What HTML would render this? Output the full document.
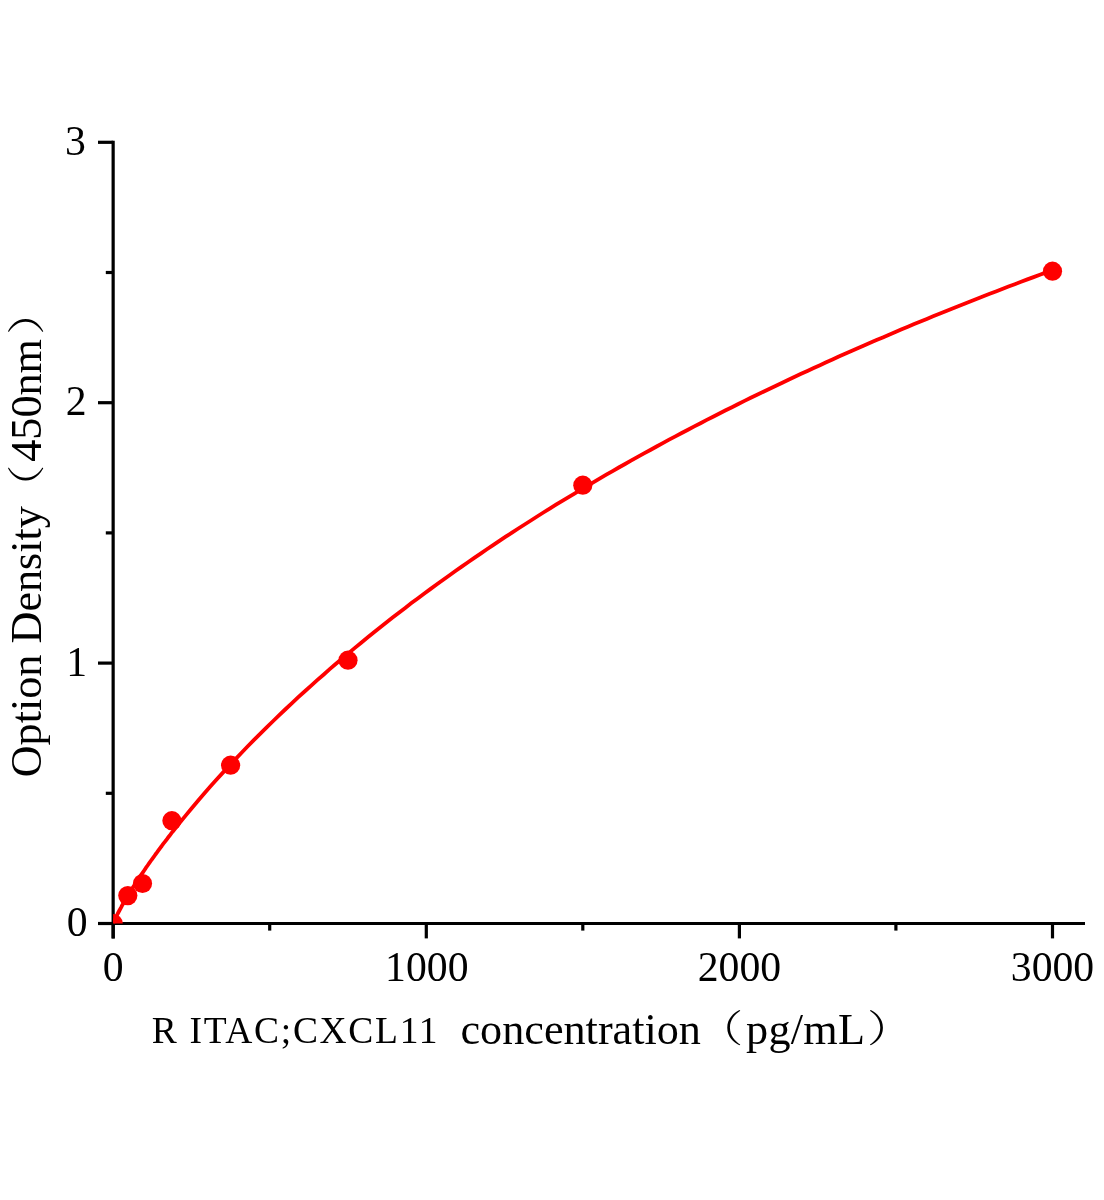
<!DOCTYPE html>
<html lang="en">
<head>
<meta charset="utf-8">
<title>R ITAC;CXCL11 standard curve</title>
<style>
html,body{margin:0;padding:0;background:#fff;}
body{width:1104px;height:1200px;overflow:hidden;}
svg{display:block;}
text{font-family:"Liberation Serif","Noto Serif CJK SC",serif;fill:#000;}
.tick text{font-size:41.7px;}
.ttl{font-size:44.2px;}
.sm{font-size:37.5px;letter-spacing:1.7px;}
.cjk{font-family:"Noto Serif CJK SC","Liberation Serif",serif;font-weight:300;font-size:44.2px;}
</style>
</head>
<body>
<svg width="1104" height="1200" viewBox="0 0 1104 1200">
<rect width="1104" height="1200" fill="#fff"/>
<defs><clipPath id="plot"><rect x="113.15" y="100" width="1000" height="823.5"/></clipPath></defs>
<g stroke="#000" stroke-width="3.2" fill="none">
<line x1="113.15" y1="140.70" x2="113.15" y2="938.4"/>
<line x1="98" y1="923.5" x2="1085" y2="923.5"/>
<line x1="113.2" y1="923.5" x2="113.2" y2="938.4"/>
<line x1="269.7" y1="923.5" x2="269.7" y2="930.6"/>
<line x1="426.3" y1="923.5" x2="426.3" y2="938.4"/>
<line x1="582.8" y1="923.5" x2="582.8" y2="930.6"/>
<line x1="739.4" y1="923.5" x2="739.4" y2="938.4"/>
<line x1="895.9" y1="923.5" x2="895.9" y2="930.6"/>
<line x1="1052.5" y1="923.5" x2="1052.5" y2="938.4"/>
<line x1="113.15" y1="923.5" x2="98" y2="923.5"/>
<line x1="113.15" y1="793.3" x2="105.8" y2="793.3"/>
<line x1="113.15" y1="663.1" x2="98" y2="663.1"/>
<line x1="113.15" y1="532.9" x2="105.8" y2="532.9"/>
<line x1="113.15" y1="402.7" x2="98" y2="402.7"/>
<line x1="113.15" y1="272.5" x2="105.8" y2="272.5"/>
<line x1="113.15" y1="142.3" x2="98" y2="142.3"/>
</g>
<g clip-path="url(#plot)">
<path d="M113.2,923.1 L114.7,920.0 L116.3,916.6 L117.8,913.5 L119.4,910.5 L121.0,907.6 L122.5,904.7 L124.1,902.0 L125.7,899.3 L127.2,896.7 L128.8,894.1 L130.4,891.5 L131.9,889.0 L133.5,886.5 L135.1,884.1 L136.6,881.7 L138.2,879.3 L139.8,876.9 L141.3,874.6 L142.9,872.3 L144.5,870.0 L146.0,867.7 L147.6,865.5 L149.2,863.2 L150.7,861.0 L152.3,858.8 L153.9,856.7 L155.4,854.5 L157.0,852.4 L158.6,850.2 L160.1,848.1 L161.7,846.0 L163.2,843.9 L164.8,841.9 L166.4,839.8 L167.9,837.8 L169.5,835.8 L171.1,833.7 L172.6,831.7 L174.2,829.7 L175.8,827.8 L178.9,823.8 L185.2,816.1 L191.5,808.5 L197.8,801.0 L204.0,793.7 L210.3,786.6 L216.6,779.5 L222.9,772.6 L229.2,765.8 L235.5,759.1 L241.8,752.5 L248.0,746.0 L254.3,739.6 L260.6,733.3 L266.9,727.1 L273.2,721.0 L279.5,714.9 L285.7,709.0 L292.0,703.1 L298.3,697.2 L304.6,691.5 L310.9,685.8 L317.2,680.2 L323.5,674.7 L329.7,669.2 L336.0,663.8 L342.3,658.4 L348.6,653.1 L354.9,647.9 L361.2,642.7 L367.5,637.6 L373.7,632.5 L380.0,627.5 L386.3,622.5 L392.6,617.6 L398.9,612.7 L405.2,607.9 L411.4,603.1 L417.7,598.4 L424.0,593.7 L430.3,589.1 L436.6,584.5 L442.9,580.0 L449.2,575.5 L455.4,571.0 L461.7,566.6 L468.0,562.2 L474.3,557.9 L480.6,553.6 L486.9,549.3 L493.1,545.1 L499.4,540.9 L505.7,536.7 L512.0,532.6 L518.3,528.5 L524.6,524.5 L530.9,520.5 L537.1,516.5 L543.4,512.5 L549.7,508.6 L556.0,504.7 L562.3,500.9 L568.6,497.1 L574.9,493.3 L581.1,489.5 L587.4,485.8 L593.7,482.1 L600.0,478.4 L606.3,474.7 L612.6,471.1 L618.8,467.5 L625.1,464.0 L631.4,460.4 L637.7,456.9 L644.0,453.4 L650.3,450.0 L656.6,446.5 L662.8,443.1 L669.1,439.7 L675.4,436.4 L681.7,433.0 L688.0,429.7 L694.3,426.4 L700.5,423.2 L706.8,419.9 L713.1,416.7 L719.4,413.5 L725.7,410.3 L732.0,407.2 L738.3,404.0 L744.5,400.9 L750.8,397.8 L757.1,394.8 L763.4,391.7 L769.7,388.7 L776.0,385.7 L782.3,382.7 L788.5,379.7 L794.8,376.8 L801.1,373.8 L807.4,370.9 L813.7,368.0 L820.0,365.2 L826.2,362.3 L832.5,359.5 L838.8,356.6 L845.1,353.8 L851.4,351.0 L857.7,348.3 L864.0,345.5 L870.2,342.8 L876.5,340.1 L882.8,337.4 L889.1,334.7 L895.4,332.0 L901.7,329.3 L907.9,326.7 L914.2,324.1 L920.5,321.5 L926.8,318.9 L933.1,316.3 L939.4,313.8 L945.7,311.2 L951.9,308.7 L958.2,306.2 L964.5,303.7 L970.8,301.2 L977.1,298.7 L983.4,296.2 L989.7,293.8 L995.9,291.4 L1002.2,288.9 L1008.5,286.5 L1014.8,284.2 L1021.1,281.8 L1027.4,279.4 L1033.6,277.1 L1039.9,274.7 L1046.2,272.4 L1052.5,270.1" fill="none" stroke="#fe0000" stroke-width="3.8" stroke-linejoin="round"/>
<g fill="#fe0000">
<circle cx="113.2" cy="923.5" r="9.6"/>
<circle cx="127.8" cy="895.6" r="9.6"/>
<circle cx="142.5" cy="883.5" r="9.6"/>
<circle cx="171.9" cy="820.7" r="9.6"/>
<circle cx="230.6" cy="765.2" r="9.6"/>
<circle cx="348.0" cy="660.2" r="9.6"/>
<circle cx="582.8" cy="485.2" r="9.6"/>
<circle cx="1052.5" cy="271.2" r="9.6"/>
</g>
</g>
<g class="tick">
<text x="113.2" y="980.9" text-anchor="middle">0</text>
<text x="426.8" y="980.9" text-anchor="middle">1000</text>
<text x="739.4" y="980.9" text-anchor="middle">2000</text>
<text x="1052.5" y="980.9" text-anchor="middle">3000</text>
<text x="87.5" y="936.0" text-anchor="end">0</text>
<text x="87.0" y="675.6" text-anchor="end">1</text>
<text x="86.5" y="415.2" text-anchor="end">2</text>
<text x="85.8" y="154.8" text-anchor="end">3</text>
</g>
<text class="sm" x="151.7" y="1042.7">R ITAC;CXCL11</text>
<text class="ttl" x="460.5" y="1043.9">concentration</text>
<text class="cjk" transform="translate(697.2,1042) scale(1.04,0.854)">（</text>
<text class="ttl" x="746" y="1043.9" style="letter-spacing:0.3px">pg/mL</text>
<text class="cjk" transform="translate(867,1042) scale(1.04,0.854)">）</text>
<text class="ttl" transform="translate(41,777.3) rotate(-90)">Option Density</text>
<text class="cjk" transform="translate(39.6,510.5) rotate(-90) scale(1.04,0.854)">（</text>
<text class="ttl" transform="translate(41,461.8) rotate(-90)">450nm</text>
<text class="cjk" transform="translate(39.6,335) rotate(-90) scale(1.04,0.854)">）</text>
</svg>
</body>
</html>
